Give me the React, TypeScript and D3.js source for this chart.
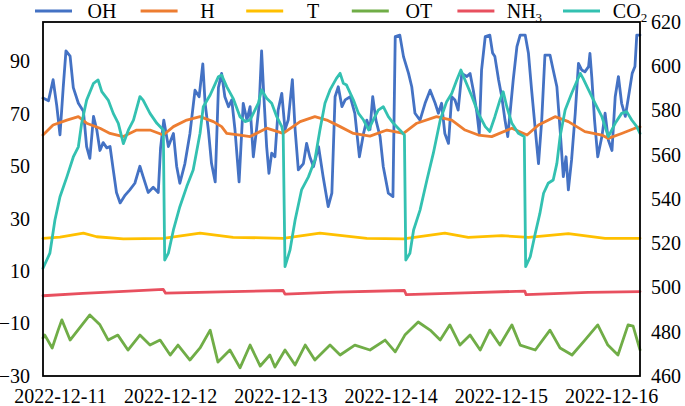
import { useEffect, useRef } from "react";
import * as d3 from "d3";

type Pt = [number, number];

// hours since 2022-12-11 00:00, value
const ohData: Pt[] = [
  [-3.7, 76], [-2.5, 75], [-1.5, 83], [-0.7, 73], [0, 62], [0.7, 80], [1.3, 94], [2.2, 92],
  [2.9, 80], [4.0, 74], [5.1, 71], [5.8, 57.5], [6.5, 53], [7.3, 69], [8.0, 64], [8.7, 56],
  [9.4, 59], [10.2, 57], [10.9, 57.5], [11.6, 48.6], [12.3, 40], [13.1, 36], [14.2, 39],
  [15.2, 41], [16.3, 43.5], [17.4, 50], [18.1, 46], [19.2, 40], [20.3, 42], [21.4, 40],
  [21.9, 57], [22.6, 67.6], [23.6, 57.5], [24.7, 62.5], [25.4, 50], [26.1, 43.5], [27.2, 51],
  [28.3, 62.5], [29.4, 79], [30.3, 76.5], [31.1, 89], [31.6, 74], [32.3, 64], [33.0, 51],
  [33.8, 44], [34.5, 80], [35.2, 85.4], [35.9, 76.5], [36.7, 72.7], [37.4, 75.3], [38.1, 64],
  [39.0, 44], [39.9, 74], [40.7, 67.6], [41.4, 72.7], [42.1, 53.6], [42.8, 64], [43.4, 74],
  [43.9, 94], [44.4, 76.5], [45.0, 57.5], [45.5, 47.3], [46.1, 55], [46.8, 53.6], [47.5, 71.4],
  [48.3, 77.8], [49.0, 64], [49.7, 67.6], [50.6, 83], [51.2, 64], [51.9, 48.6], [53.0, 51],
  [53.7, 58.7], [54.4, 53.6], [55.2, 49.8], [56.3, 57.5], [57.3, 46], [58.4, 34.6], [59.2, 39.7],
  [59.9, 76.5], [60.6, 80.3], [61.4, 72.7], [62.1, 75.3], [63.2, 76.5], [64.2, 70.2], [65.2, 53.6],
  [66.1, 62.5], [66.8, 67.6], [67.5, 64], [68.1, 76.5], [68.8, 67.6], [69.7, 61.3], [70.4, 49.8],
  [71.5, 39.7], [72.5, 38.4], [73.0, 99.4], [74.0, 100], [74.8, 91.8], [75.9, 85.4], [76.6, 80.3],
  [77.3, 70.2], [78.4, 67.6], [79.5, 74], [80.6, 79], [81.7, 74], [82.4, 70.2], [83.1, 74],
  [83.8, 62.5], [84.6, 58.7], [85.3, 76.5], [86.0, 75.3], [86.7, 71.4], [87.5, 85.4], [88.6, 84.2],
  [89.3, 85.4], [90.0, 79], [90.8, 70.2], [91.3, 62.5], [91.8, 86.7], [92.6, 99.4], [93.6, 100],
  [94.2, 93.2], [94.7, 91.8], [95.5, 83], [96.2, 76.5], [96.9, 67.6], [97.5, 61.3], [98.0, 70.2],
  [98.7, 83], [99.5, 95.6], [100.2, 100], [101.3, 100], [102.0, 93.2], [102.7, 79], [103.5, 64],
  [104.2, 51], [104.9, 67.6], [105.6, 92.4], [106.7, 92.4], [107.4, 86.7], [108.2, 80.3],
  [108.9, 64], [109.6, 46], [110.2, 53.6], [110.7, 41], [111.4, 52.4], [112.2, 70.2], [112.9, 89.2],
  [113.6, 86.7], [114.3, 86], [115.1, 88], [115.4, 93], [115.8, 84], [116.4, 67.6], [117.1, 53.6],
  [118.0, 61.3], [118.7, 70.2], [119.4, 60], [120.2, 56], [120.9, 76.5], [121.6, 84.2], [122.3, 74],
  [123.1, 69], [123.8, 76.5], [124.6, 85.4], [125.2, 88], [125.6, 100], [126.3, 100],
];

const hData: Pt[] = [
  [-3.7, 61.9], [-1.5, 65.7], [1.5, 67.6], [4.0, 68.9], [5.8, 66.4], [8.7, 64.5], [10.9, 62.5],
  [13.8, 61.3], [16.7, 63.8], [19.6, 63.8], [22.5, 61.9], [24.7, 65.1], [27.6, 67.6], [30.5, 68.9],
  [33.4, 67], [35.2, 65.1], [36.3, 62.5], [39.2, 61.9], [41.4, 61.3], [45.0, 64.5], [48.6, 62.5],
  [52.3, 67], [55.5, 68.9], [58.1, 67.6], [61.0, 65.1], [63.9, 62.5], [67.5, 61.5], [71.2, 63.8],
  [74.8, 62.5], [77.7, 66.4], [82.0, 68.9], [85.3, 67.6], [88.2, 63.8], [91.1, 61.9], [94.0, 61.3],
  [98.4, 64.5], [101.7, 61.9], [104.2, 65.7], [107.8, 68.9], [110.7, 67], [114.3, 63.2],
  [118.0, 61.9], [119.4, 60.6], [122.3, 62.5], [125.2, 64.5], [126.3, 65],
];

const tData: Pt[] = [
  [-3.7, 22.5], [0, 23], [5.1, 24.5], [8, 23.1], [13.8, 22.3], [22.5, 22.5], [30.5, 24.5],
  [37.7, 22.9], [48.6, 22.5], [56.6, 24.5], [66.8, 22.5], [74.8, 22.3], [83.8, 24.5],
  [88.9, 22.9], [96.2, 23.5], [102, 22.9], [110.7, 24.3], [118.7, 22.5], [126.3, 22.5],
];

const otData: Pt[] = [
  [-3.7, -15.5], [-3.3, -14.4], [-1.7, -19.3], [-0.4, -12.5], [0.4, -8.6], [2.2, -16.3],
  [3.9, -12.5], [6.5, -6.7], [8.7, -10.5], [10.5, -16.3], [12.6, -14.4], [14.8, -20.1],
  [17.4, -14.4], [19.6, -18.2], [21.8, -16.3], [24.0, -22], [25.7, -18.2], [28.3, -23.9],
  [30.5, -19.3], [32.7, -12.5], [34.4, -24.7], [37.0, -20.1], [39.2, -26.9], [41.4, -18.2],
  [43.6, -26.2], [45.7, -22], [46.8, -26.6], [49.0, -20.1], [51.2, -25.8], [53.4, -18.2],
  [55.5, -23.9], [58.8, -18.2], [61.0, -22], [64.2, -18.2], [67.5, -20.1], [70.8, -16.3],
  [73.0, -20.8], [75.1, -14.4], [78.0, -9.4], [80.6, -12.5], [82.8, -16.3], [84.9, -10.5],
  [87.1, -18.2], [89.3, -14.4], [91.5, -20.1], [93.6, -12.5], [95.8, -18.2], [98.4, -10.5],
  [100.2, -18.2], [103.5, -20.1], [106.7, -12.5], [108.9, -19.3], [111.5, -22], [114.3, -16.3],
  [117.1, -10.5], [119.3, -18.2], [121.5, -22], [123.7, -10.5], [124.8, -11], [126.3, -20],
];

const nh3Data: Pt[] = [
  [-3.7, 0.6], [5, 1.5], [15, 2.4], [22.5, 3.0], [23, 1.6], [35, 2.1], [48.6, 2.6], [49, 1.2],
  [60, 2.0], [75, 2.6], [75.4, 1.0], [90, 1.8], [101.2, 2.4], [101.5, 1.0], [115, 1.9], [126.3, 2.2],
];

const co2Data: Pt[] = [
  [-3.7, 508.7], [-2.2, 515.5], [-1.1, 530.5], [0, 541], [1.5, 550], [2.9, 559], [4.0, 563.6],
  [4.7, 574], [5.8, 584.7], [7.3, 592.3], [8.3, 593.8], [9.1, 588.5], [10.5, 584.7], [11.6, 578.7],
  [12.7, 574.2], [13.8, 565], [14.9, 571.2], [16.0, 575.7], [17.4, 586.3], [18.1, 584.7],
  [19.6, 578.7], [21.1, 574.2], [22.5, 571.2], [22.8, 512.4], [23.6, 515.5], [24.7, 526],
  [26.1, 536.5], [27.6, 545.6], [29.0, 553.1], [30.5, 569.7], [31.2, 581.7], [32.7, 587],
  [34.5, 595.3], [35.2, 596], [36.3, 590.8], [37.7, 585.5], [39.2, 577.2], [40.3, 575],
  [41.4, 575.7], [42.1, 578.7], [43.2, 583.3], [43.9, 589.3], [45.0, 585.5], [46.1, 583.3],
  [47.2, 577.2], [48.3, 572.7], [48.6, 569.7], [49.0, 509.4], [50.1, 517], [51.2, 530.5],
  [52.6, 544.1], [54.1, 550], [55.5, 557.6], [56.6, 571.2], [57.7, 583.3], [58.8, 589.3],
  [60.2, 594.5], [61.0, 596.8], [61.7, 592.3], [62.4, 591.5], [63.9, 584.7], [65.0, 578.7],
  [66.1, 575.7], [67.2, 571.2], [68.2, 575.7], [69.3, 580.2], [70.4, 581.7], [71.5, 577.2],
  [72.6, 574.2], [74.0, 571.2], [75.0, 568.9], [75.3, 512.4], [76.2, 515.5], [77.0, 526],
  [78.4, 535], [79.9, 548.6], [81.3, 560.7], [82.8, 575.7], [84.2, 584], [85.3, 587.7],
  [86.4, 593.8], [87.3, 598.3], [88.2, 593.8], [89.7, 586.3], [91.1, 578.7], [92.6, 572.7],
  [93.6, 570.5], [94.7, 577.2], [95.8, 584.7], [96.5, 588.5], [97.3, 581.7], [98.4, 574.2],
  [99.8, 569.7], [101.1, 568.2], [101.4, 509.4], [102.4, 513.9], [103.5, 524.5], [104.5, 533.5],
  [105.3, 542.6], [106.3, 547.1], [107.4, 548.6], [108.2, 556.1], [108.9, 568.2], [110.0, 580.2],
  [111.4, 587.7], [113.3, 596.8], [113.9, 594.5], [115.1, 589.3], [116.5, 583.3], [118.0, 577.2],
  [119.4, 568.2], [120.9, 574.2], [122.3, 578.7], [123.4, 579.5], [124.5, 575.7], [125.6, 572.7],
  [126.3, 569.7],
];

const leftTicks = [-30, -10, 10, 30, 50, 70, 90];
const rightTicks = [460, 480, 500, 520, 540, 560, 580, 600, 620];
const dayLabels = ["2022-12-11", "2022-12-12", "2022-12-13", "2022-12-14", "2022-12-15", "2022-12-16"];

const series = [
  { name: "OH", data: ohData, color: "#4472C4", axis: "left" },
  { name: "H", data: hData, color: "#ED7D31", axis: "left" },
  { name: "T", data: tData, color: "#FFC000", axis: "left" },
  { name: "OT", data: otData, color: "#70AD47", axis: "left" },
  { name: "NH3", data: nh3Data, color: "#E8505F", axis: "left" },
  { name: "CO2", data: co2Data, color: "#33C1B1", axis: "right" },
];

const base = new Date(2022, 11, 11).getTime();
const toDate = (h: number) => new Date(base + h * 3600 * 1000);

const App = () => {
  const svgRef = useRef<SVGSVGElement | null>(null);

  useEffect(() => {
    if (!svgRef.current) return;
    const width = 685;
    const height = 406;
    const m = { left: 43, right: 640, top: 22, bottom: 376 };
    const font = "'Times New Roman', 'Liberation Serif', serif";

    const svg = d3.select(svgRef.current).attr("width", width).attr("height", height);
    svg.selectAll("*").remove();

    const x = d3.scaleTime().domain([toDate(-3.7), toDate(126.3)]).range([m.left, m.right]);
    const yL = d3.scaleLinear().domain([-30, 105]).range([m.bottom, m.top]);
    const yR = d3.scaleLinear().domain([460, 620]).range([m.bottom, m.top]);

    // lines
    series.forEach((s) => {
      const y = s.axis === "left" ? yL : yR;
      const line = d3
        .line<Pt>()
        .x((d) => x(toDate(d[0])))
        .y((d) => y(d[1]));
      svg
        .append("path")
        .datum(s.data)
        .attr("d", line)
        .attr("fill", "none")
        .attr("stroke", s.color)
        .attr("stroke-width", 2.8)
        .attr("stroke-linejoin", "round")
        .attr("stroke-linecap", "round");
    });

    // frame
    svg
      .append("rect")
      .attr("x", m.left)
      .attr("y", m.top)
      .attr("width", m.right - m.left)
      .attr("height", m.bottom - m.top)
      .attr("fill", "none")
      .attr("stroke", "#000")
      .attr("stroke-width", 1.8);

    const styleAxis = (g: any) => {
      g.select(".domain").remove();
      g.selectAll("text").attr("font-family", font).attr("font-size", 20).attr("fill", "#000");
    };

    svg
      .append("g")
      .attr("transform", `translate(${m.left - 13},0)`)
      .call(d3.axisLeft(yL).tickValues(leftTicks).tickSize(0).tickPadding(0))
      .call(styleAxis);

    svg
      .append("g")
      .attr("transform", `translate(${m.right + 11},0)`)
      .call(d3.axisRight(yR).tickValues(rightTicks).tickSize(0).tickPadding(0))
      .call(styleAxis);

    const parse = d3.timeParse("%Y-%m-%d");
    svg
      .append("g")
      .attr("transform", `translate(0,${m.bottom})`)
      .call(
        d3
          .axisBottom(x)
          .tickValues(dayLabels.map((d) => parse(d) as Date))
          .tickFormat(d3.timeFormat("%Y-%m-%d") as any)
          .tickSize(0)
          .tickPadding(13)
      )
      .call(styleAxis);

    // legend
    const legend = svg.append("g");
    series.forEach((s, i) => {
      const x0 = 35 + i * 105.6;
      legend
        .append("line")
        .attr("x1", x0)
        .attr("x2", x0 + 37)
        .attr("y1", 11)
        .attr("y2", 11)
        .attr("stroke", s.color)
        .attr("stroke-width", 3);
      const t = legend
        .append("text")
        .attr("x", x0 + 67)
        .attr("y", 18)
        .attr("text-anchor", "middle")
        .attr("font-family", font)
        .attr("font-size", 20);
      const sub = s.name.match(/^([A-Z]+)(\d)$/);
      if (sub) {
        t.append("tspan").text(sub[1]);
        t.append("tspan").attr("font-size", 13).attr("dy", 4).text(sub[2]);
      } else {
        t.text(s.name);
      }
    });
  }, []);

  return <svg ref={svgRef} style={{ position: "absolute", left: 0, top: 0 }}></svg>;
};

export default App;
